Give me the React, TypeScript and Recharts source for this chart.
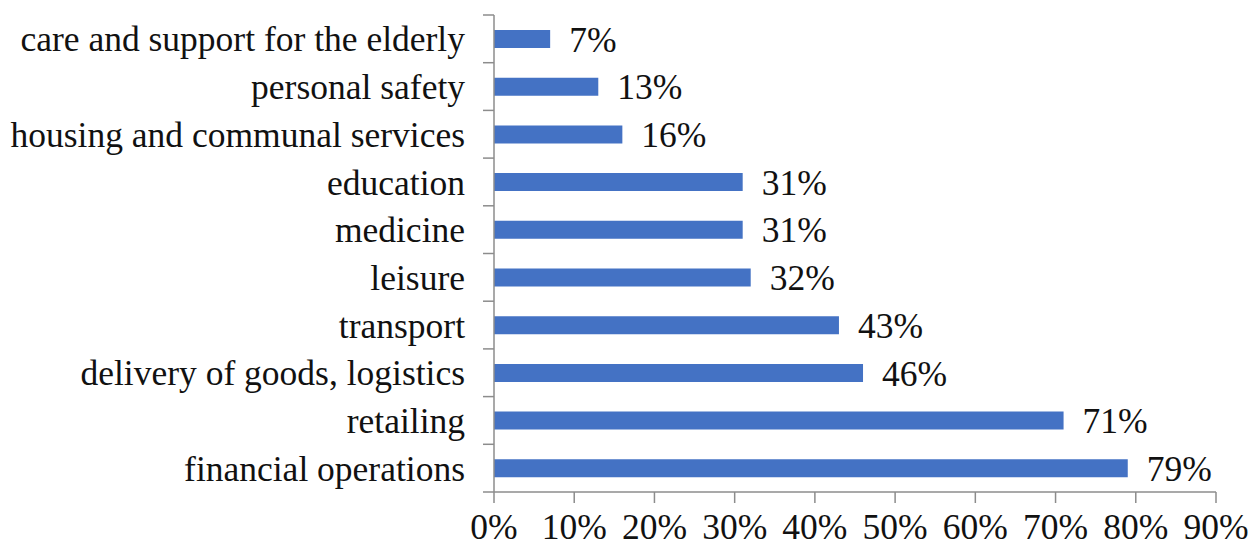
import { BarChart, Bar, XAxis, YAxis, LabelList } from "recharts";

const CATEGORIES = [
  "care and support for the elderly",
  "personal safety",
  "housing and communal services",
  "education",
  "medicine",
  "leisure",
  "transport",
  "delivery of goods, logistics",
  "retailing",
  "financial operations",
];
const SHARES = [7, 13, 16, 31, 31, 32, 43, 46, 71, 79];
const X_TICKS = [0, 10, 20, 30, 40, 50, 60, 70, 80, 90];

const data = CATEGORIES.map((name, i) => ({ name, value: SHARES[i] }));

const FONT = "'Liberation Serif', 'Times New Roman', serif";
const AXIS_COLOR = "#8c8c8c";
const TEXT_COLOR = "#111";
const FS = 35.5;
const TICK_SIZE = 11;
const TICK_MARGIN = 18;

// category label + tick marks on the band edges (like Excel)
function CategoryTick(props: any) {
  const { x, y, payload, index, visibleTicksCount } = props;
  const axisX = x + TICK_SIZE + TICK_MARGIN;
  const half = payload.offset ?? 0;
  const line = (yy: number) => (
    <line x1={axisX - TICK_SIZE} x2={axisX} y1={yy} y2={yy} stroke={AXIS_COLOR} strokeWidth={1.5} />
  );
  return (
    <g>
      {line(y - half)}
      {index === visibleTicksCount - 1 && line(y + half)}
      <text x={x} y={y} dy="0.355em" textAnchor="end" fill={TEXT_COLOR} fontSize={FS} fontFamily={FONT}>
        {payload.value}
      </text>
    </g>
  );
}

export default function App() {
  return (
    <div style={{ position: "absolute", left: 0, top: 0, background: "#fff" }}>
      <BarChart
        width={1252}
        height={548}
        data={data}
        layout="vertical"
        margin={{ top: 15, right: 36, left: 0, bottom: 0 }}
        barSize={18}
      >
        <YAxis
          type="category"
          dataKey="name"
          width={494}
          axisLine={{ stroke: AXIS_COLOR, strokeWidth: 1.5 }}
          tickLine={false}
          tickSize={TICK_SIZE}
          tickMargin={TICK_MARGIN}
          interval={0}
          tick={<CategoryTick />}
        />
        <XAxis
          type="number"
          domain={[0, 90]}
          ticks={X_TICKS}
          height={56}
          tickFormatter={(v) => `${v}%`}
          axisLine={{ stroke: AXIS_COLOR, strokeWidth: 1.5 }}
          tickLine={{ stroke: AXIS_COLOR, strokeWidth: 1.5 }}
          tickSize={TICK_SIZE}
          tickMargin={11}
          interval={0}
          tick={{ fill: TEXT_COLOR, fontSize: FS, fontFamily: FONT }}
        />
        <Bar dataKey="value" fill="#4472C4" isAnimationActive={false}>
          <LabelList
            dataKey="value"
            position="right"
            offset={19}
            formatter={(v: any) => `${v}%`}
            style={{ fill: TEXT_COLOR, fontSize: FS, fontFamily: FONT }}
          />
        </Bar>
      </BarChart>
    </div>
  );
}
